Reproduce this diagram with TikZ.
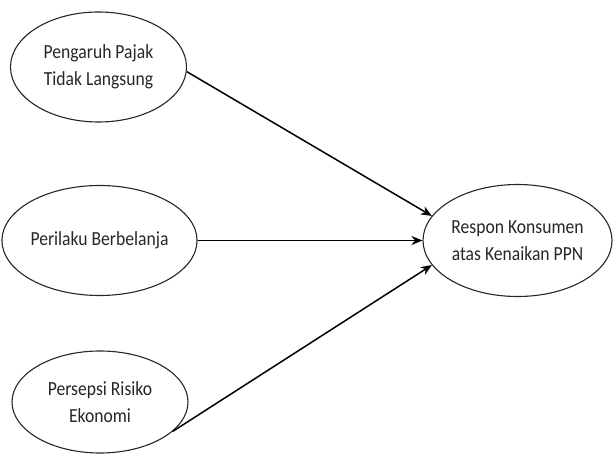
\documentclass[tikz,border=0pt]{standalone}
\usepackage{fontspec}
\setmainfont[FakeStretch=0.88]{Carlito}
\usetikzlibrary{shapes.geometric,arrows.meta}
\tikzset{
  var/.style={ellipse, draw=black!85, line width=1.1bp, inner sep=0pt,
    minimum width=176bp, minimum height=110bp, align=center,
    font=\fontsize{20bp}{27bp}\selectfont, text=black!85},
  link/.style={line width=1.5bp, -{Stealth[length=11bp,width=9bp]}}
}
\begin{document}
\begin{tikzpicture}[x=1bp,y=-1bp]
\useasboundingbox (0,0) rectangle (613,456);
\node[var] (e1) at (98.5,67) {Pengaruh Pajak\\Tidak Langsung};
\node[var, minimum width=175bp] (e2) at (99.5,240.5) {Perilaku Berbelanja};
\node[var, minimum height=102bp] (e3) at (100,402) {Persepsi Risiko\\Ekonomi};
\node[var, minimum width=189bp, minimum height=112bp] (e4) at (517.5,240.5) {Respon Konsumen\\atas Kenaikan PPN};
\draw[link] (e1.-3) -- (e4.164);
\draw[link] (e2.east) -- (e4.west);
\draw[link] (e3.-22) -- (e4.196);
\end{tikzpicture}
\end{document}
